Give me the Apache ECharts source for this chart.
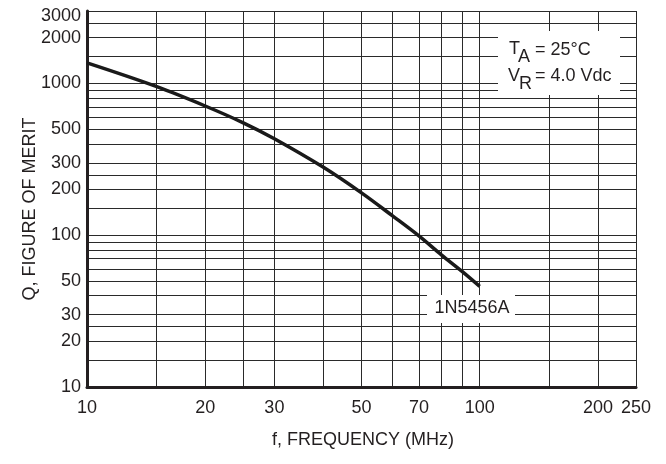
<!DOCTYPE html>
<html>
<head>
<meta charset="utf-8">
<script src="https://cdn.jsdelivr.net/npm/echarts@6/dist/echarts.min.js"></script>
<style>
html,body{margin:0;padding:0;background:#fff;}
#chart{width:666px;height:464px;}
</style>
</head>
<body>
<div id="chart"></div>
<script>
// Data
const freqMHz = [10, 15, 20, 25, 30, 40, 50, 60, 70, 80, 90, 100];
const qValues = [1365, 955, 710, 550, 432, 280, 190, 134, 99, 74, 58, 46];
const seriesName = '1N5456A';

// Axis grid lines and tick labels
const xGridValues = [10, 15, 20, 25, 30, 40, 50, 60, 70, 80, 90, 100, 150, 200, 250];
const xTickLabels = [10, 20, 30, 50, 70, 100, 200, 250];
const yGridValues = [10, 15, 20, 25, 30, 40, 50, 60, 70, 80, 90, 100, 150, 200, 250, 300, 400, 500, 600, 700, 800, 900, 1000, 1500, 2000, 2500, 3000];
const yTickLabels = [10, 20, 30, 50, 100, 200, 300, 500, 1000, 2000, 3000];

const xTitle = 'f, FREQUENCY (MHz)';
const yTitle = 'Q, FIGURE OF MERIT';

const FONT = '"Liberation Sans", Arial, Helvetica, sans-serif';
const INK = '#231f20';

const chart = echarts.init(document.getElementById('chart'), null, {renderer: 'canvas'});

const lineData = freqMHz.map((f, i) => [f, qValues[i]]);

const option = {
  backgroundColor: '#fff',
  animation: false,
  grid: {left: 87, right: 30, top: 11, bottom: 77, containLabel: false},
  xAxis: {
    type: 'log',
    logBase: 10,
    min: 10,
    max: 250,
    axisLine: {show: true, onZero: false, lineStyle: {color: INK, width: 3}},
    axisTick: {show: false, customValues: xGridValues},
    axisLabel: {
      show: true,
      customValues: xTickLabels,
      margin: 12,
      color: INK,
      fontFamily: FONT,
      fontSize: 18,
      formatter: v => String(Math.round(v))
    },
    splitLine: {show: true, lineStyle: {color: '#2a2a2a', width: 1}},
    minorSplitLine: {show: false}
  },
  yAxis: {
    type: 'log',
    logBase: 10,
    min: 10,
    max: 3000,
    axisLine: {show: true, onZero: false, lineStyle: {color: INK, width: 3}},
    axisTick: {show: false, customValues: yGridValues},
    axisLabel: {
      show: true,
      customValues: yTickLabels,
      margin: 6,
      color: INK,
      fontFamily: FONT,
      fontSize: 18,
      formatter: v => {
        const r = Math.round(v);
        return r === 3000 ? '{t|' + r + '}' : String(r);
      },
      rich: {t: {fontFamily: FONT, fontSize: 18, color: INK, padding: [10, 0, 0, 0]}}
    },
    splitLine: {show: true, lineStyle: {color: '#2a2a2a', width: 1}}
  },
  series: [{
    name: seriesName,
    type: 'line',
    data: lineData,
    smooth: 0.35,
    showSymbol: false,
    symbol: 'none',
    lineStyle: {color: '#1a1a1a', width: 3.5},
    z: 5
  }],
  graphic: [
    {
      type: 'text', z: 50,
      x: 30, y: 209, rotation: Math.PI / 2,
      style: {text: yTitle, fill: INK, font: '18px ' + FONT, textAlign: 'center', textVerticalAlign: 'middle'}
    },
    {
      type: 'text', z: 50,
      x: 363, y: 440,
      style: {text: xTitle, fill: INK, font: '18px ' + FONT, textAlign: 'center', textVerticalAlign: 'middle'}
    },
    {
      type: 'group', z: 50,
      children: [
        {type: 'rect', z: 50, shape: {x: 498, y: 31, width: 122, height: 64}, style: {fill: '#fff'}},
        {type: 'text', z: 51, x: 509, y: 49, style: {text: 'T', fill: INK, font: '18px ' + FONT, textAlign: 'left', textVerticalAlign: 'middle'}},
        {type: 'text', z: 51, x: 518, y: 57, style: {text: 'A', fill: INK, font: '18px ' + FONT, textAlign: 'left', textVerticalAlign: 'middle'}},
        {type: 'text', z: 51, x: 535, y: 50, style: {text: '= 25°C', fill: INK, font: '18px ' + FONT, textAlign: 'left', textVerticalAlign: 'middle'}},
        {type: 'text', z: 51, x: 508, y: 76, style: {text: 'V', fill: INK, font: '18px ' + FONT, textAlign: 'left', textVerticalAlign: 'middle'}},
        {type: 'text', z: 51, x: 519, y: 84, style: {text: 'R', fill: INK, font: '18px ' + FONT, textAlign: 'left', textVerticalAlign: 'middle'}},
        {type: 'text', z: 51, x: 535, y: 76, style: {text: '= 4.0 Vdc', fill: INK, font: '18px ' + FONT, textAlign: 'left', textVerticalAlign: 'middle'}}
      ]
    },
    {
      type: 'group', z: 50,
      children: [
        {type: 'rect', z: 50, shape: {x: 427, y: 295, width: 88, height: 28}, style: {fill: '#fff'}},
        {type: 'text', z: 51, x: 472, y: 308, style: {text: seriesName, fill: INK, font: '18px ' + FONT, textAlign: 'center', textVerticalAlign: 'middle'}}
      ]
    }
  ]
};

chart.setOption(option);
</script>
</body>
</html>
